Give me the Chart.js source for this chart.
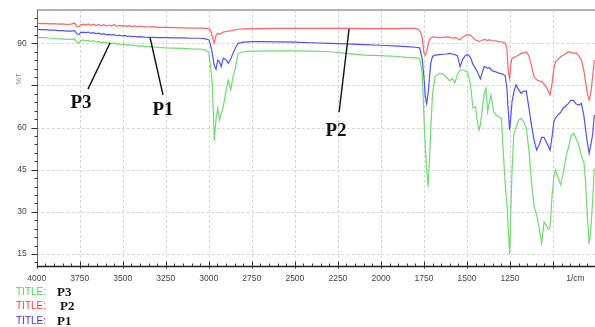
<!DOCTYPE html>
<html><head><meta charset="utf-8">
<script src="https://cdn.jsdelivr.net/npm/chart.js@4.4.1/dist/chart.umd.min.js"></script>
<style>html,body{margin:0;padding:0;background:#fff;overflow:hidden}</style>
</head><body>
<canvas id="c" width="595" height="327"></canvas>
<script>
// Wavenumbers (1/cm), shared by all three spectra
const wavenumbers = [
4000,3975,3950,3925,3900,3875,3850,3825,3800,3780,
3765,3755,3745,3730,3715,3700,3685,3670,3655,3640,
3625,3610,3595,3580,3565,3550,3535,3520,3505,3490,
3475,3460,3445,3430,3415,3400,3375,3350,3325,3300,
3250,3200,3150,3100,3050,3020,3000,2990,2980,2968,
2958,2948,2938,2928,2916,2900,2887,2872,2860,2848,
2830,2800,2750,2700,2600,2500,2400,2300,2200,2100,
2000,1900,1850,1800,
1775,1760,1750,1742,1734,1726,1718,1710,1700,1685,
1660,1640,1620,1600,1585,1570,1555,1540,1525,1510,
1495,1480,1465,1450,1440,1430,1422,1412,1400,1390,
1380,1370,1360,1345,1330,1315,1300,1288,1278,1268,
1260,1252,1245,1238,1228,1215,1200,1185,1170,1155,
1140,1125,1110,1095,1080,1066,1052,1040,1028,1017,
1005,995,985,970,955,940,925,910,895,880,
865,850,835,820,810,800,790,780,770,760
];
// P2 (red) %T
const p2 = [
97.1,97.0,97.1,96.9,97.0,96.8,96.9,96.7,96.8,97.2,
96.0,95.8,96.6,96.8,96.5,96.9,96.4,96.8,96.3,96.7,
96.2,96.6,96.1,96.5,96.2,96.6,96.0,96.4,96.1,96.3,
96.0,96.3,95.9,96.2,95.9,96.1,95.9,95.8,95.9,95.7,
95.7,95.6,95.5,95.4,95.4,95.3,95.2,94.6,92.5,90.1,
92.8,93.6,93.2,93.6,94.0,94.2,94.3,94.5,94.6,94.8,
95.0,95.1,95.2,95.2,95.3,95.3,95.3,95.3,95.3,95.2,
95.2,95.2,95.3,95.3,
94.7,92.0,86.5,85.8,87.0,89.5,91.2,91.8,92.3,92.2,
92.0,92.1,92.3,92.2,91.8,92.0,91.7,91.2,92.2,92.8,
93.1,92.9,92.0,91.2,90.9,90.6,90.8,91.0,91.4,91.2,
91.0,91.3,91.0,90.9,90.8,90.6,90.5,90.3,90.1,88.5,
80.0,77.5,82.5,84.7,85.0,85.3,85.8,86.4,86.6,87.0,
85.5,82.0,78.0,77.0,76.6,76.4,75.5,74.6,73.0,71.6,
76.0,81.0,83.5,84.3,85.2,85.8,86.4,87.0,86.8,86.4,
86.6,85.5,84.1,80.0,76.0,72.0,69.8,72.5,78.0,84.1
];
// P1 (blue) %T
const p1 = [
95.0,94.9,94.9,94.7,94.7,94.5,94.5,94.3,94.3,94.5,
93.3,93.1,93.8,94.0,93.8,94.0,93.6,93.8,93.4,93.6,
93.2,93.4,93.0,93.2,92.9,93.1,92.7,92.9,92.6,92.8,
92.5,92.6,92.4,92.5,92.3,92.4,92.2,92.1,92.1,92.0,
92.0,91.9,91.9,91.8,91.8,91.6,91.3,89.5,86.5,82.0,
80.8,84.1,83.5,81.7,84.7,84.2,82.9,84.5,86.4,88.0,
90.0,90.4,90.6,90.6,90.5,90.4,90.2,90.0,89.8,89.5,
89.3,89.0,88.8,88.6,
88.4,84.5,78.0,71.0,68.6,72.0,77.5,83.0,85.3,85.8,
86.0,86.1,86.2,86.4,86.2,86.0,85.5,81.7,84.3,85.6,
86.0,85.0,82.5,81.0,80.0,78.5,77.3,79.5,81.7,81.5,
81.1,81.4,80.6,80.0,79.8,79.4,79.2,78.9,78.5,74.0,
66.0,59.2,64.0,69.2,72.5,75.2,73.5,72.2,73.0,73.0,
67.0,60.9,55.5,52.0,54.0,56.5,56.5,55.0,53.5,52.0,
57.0,62.1,63.5,64.5,65.5,67.0,67.8,68.6,69.8,69.6,
68.4,68.0,68.6,64.0,59.0,54.5,50.9,54.0,57.4,64.5
];
// P3 (green) %T
const p3 = [
92.1,92.0,92.0,91.8,91.8,91.6,91.6,91.4,91.4,91.6,
90.3,90.1,90.9,91.2,90.8,91.1,90.6,90.9,90.4,90.7,
90.2,90.5,90.0,90.3,89.8,90.1,89.6,89.9,89.5,89.7,
89.3,89.5,89.2,89.3,89.0,89.1,88.9,88.8,88.7,88.6,
88.4,88.3,88.2,88.0,87.9,87.6,86.6,81.5,76.0,55.3,
63.0,66.9,62.7,65.0,67.4,73.0,76.9,73.4,78.0,80.5,
86.4,87.0,87.2,87.2,87.3,87.3,87.2,87.0,86.4,85.8,
85.6,85.3,85.0,84.8,
84.7,79.5,64.0,53.0,45.0,39.0,48.0,60.0,72.0,78.1,
79.3,79.1,78.0,76.6,77.5,76.0,79.0,80.5,80.5,80.2,
79.5,75.5,67.0,67.5,62.5,59.1,61.0,66.0,72.0,74.0,
65.7,69.0,71.6,65.7,64.5,63.9,63.3,50.3,40.0,33.0,
24.0,15.0,30.0,45.0,57.5,60.0,62.7,63.3,62.0,59.8,
52.0,40.8,32.0,28.9,24.0,18.8,26.5,25.3,24.0,24.5,
36.0,42.5,45.0,42.0,39.6,44.0,49.5,53.0,57.0,58.0,
56.0,53.8,50.0,47.5,40.0,28.0,18.5,24.0,33.7,45.5
];
const xTickValues = [4000,3750,3500,3250,3000,2750,2500,2250,2000,1750,1500,1250,1000];
const yTickValues = [15,30,45,60,75,90];
const seriesNames = ['P3','P2','P1'];
const seriesColors = ['#6fdc6f','#ff6262','#5050ff'];
const legendColors = ['#44d944','#ff3348','#3030ff'];
const seriesValues = [p3,p2,p1];
const callouts = [
  {label:'P3', from:[3574,90.1], to:[3702,73.7], at:[3743,68.6]},
  {label:'P1', from:[3341,91.9], to:[3266,71.6], at:[3266,66.1]},
  {label:'P2', from:[2185,95.1], to:[2243,65.5], at:[2261,58.9]}
];

const deco = {
  id:'deco',
  beforeDatasetsDraw(chart){
    const {ctx, chartArea:a, scales:{x,y}} = chart;
    ctx.save();
    ctx.strokeStyle='#d6d6d6'; ctx.lineWidth=1; ctx.setLineDash([3,2]);
    xTickValues.slice(1).forEach(v=>{
      const px=Math.round(x.getPixelForValue(v))+0.5;
      if(px<a.right){ctx.beginPath();ctx.moveTo(px,a.top);ctx.lineTo(px,a.bottom);ctx.stroke();}
    });
    yTickValues.forEach(v=>{
      const py=Math.round(y.getPixelForValue(v))+0.5;
      ctx.beginPath();ctx.moveTo(a.left,py);ctx.lineTo(a.right,py);ctx.stroke();
    });
    ctx.restore();
  },
  afterDatasetsDraw(chart){
    const {ctx, chartArea:a, scales:{x,y}} = chart;
    ctx.save();
    ctx.strokeStyle='#b4b4b4'; ctx.lineWidth=2;
    ctx.beginPath();ctx.moveTo(a.left,a.top);ctx.lineTo(a.right,a.top);ctx.stroke();
    const lx=Math.round(a.left)+0.5;
    ctx.strokeStyle='#666'; ctx.lineWidth=1;
    ctx.beginPath();ctx.moveTo(lx,a.top);ctx.lineTo(lx,a.bottom);ctx.stroke();
    ctx.strokeStyle='#333';
    for(let v=12; v<=100; v+=3){
      const py=Math.round(y.getPixelForValue(v))+0.5;
      const len = (v%15===0)?6:3;
      ctx.beginPath();ctx.moveTo(lx-len,py);ctx.lineTo(lx,py);ctx.stroke();
    }
    const by=Math.round(a.bottom)+0.5;
    ctx.strokeStyle='#222'; ctx.lineWidth=1.5;
    ctx.beginPath();ctx.moveTo(a.left,by);ctx.lineTo(a.right,by);ctx.stroke();
    ctx.lineWidth=1; ctx.strokeStyle='#333';
    for(let v=4000; v>=760; v-=50){
      const px=Math.round(x.getPixelForValue(v))+0.5;
      const major = v%250===0;
      ctx.beginPath();ctx.moveTo(px,by-(major?5:3));ctx.lineTo(px,by+(major?2:0));ctx.stroke();
    }
    ctx.restore();
  },
  afterDraw(chart){
    const {ctx, scales:{x,y}} = chart;
    ctx.save();
    ctx.fillStyle='#444'; ctx.font='8.5px "Liberation Sans", Arial, sans-serif';
    ctx.textAlign='center'; ctx.textBaseline='top';
    ctx.fillText('1/cm', x.getPixelForValue(870), chart.chartArea.bottom+8);
    ctx.save();
    ctx.translate(19, y.getPixelForValue(77.3));
    ctx.rotate(-Math.PI/2);
    ctx.fillStyle='#888'; ctx.font='7.5px "Liberation Sans", Arial, sans-serif';
    ctx.textAlign='center'; ctx.textBaseline='middle';
    ctx.fillText('%T',0,0);
    ctx.restore();
    ctx.strokeStyle='#111'; ctx.lineWidth=1.4; ctx.fillStyle='#111';
    ctx.font='bold 19px "Liberation Serif", "Times New Roman", serif';
    ctx.textAlign='center'; ctx.textBaseline='middle';
    callouts.forEach(c=>{
      ctx.beginPath();
      ctx.moveTo(x.getPixelForValue(c.from[0]), y.getPixelForValue(c.from[1]));
      ctx.lineTo(x.getPixelForValue(c.to[0]), y.getPixelForValue(c.to[1]));
      ctx.stroke();
      ctx.fillText(c.label, x.getPixelForValue(c.at[0]), y.getPixelForValue(c.at[1]));
    });
    const rows=[292,306.5,321];
    const nameX=[57,60,57];
    seriesNames.forEach((n,i)=>{
      ctx.textAlign='left'; ctx.textBaseline='middle';
      ctx.font='10px "Liberation Sans", Arial, sans-serif';
      ctx.fillStyle=legendColors[i];
      ctx.fillText('TITLE:',16,rows[i]);
      ctx.font='bold 13px "Liberation Serif", "Times New Roman", serif';
      ctx.fillStyle='#111';
      ctx.fillText(n,nameX[i],rows[i]+0.5);
    });
    ctx.restore();
  }
};

new Chart(document.getElementById('c'), {
  type:'line',
  data:{
    datasets: seriesNames.map((n,i)=>({
      label:n,
      data: wavenumbers.map((w,j)=>({x:w,y:seriesValues[i][j]})),
      borderColor: seriesColors[i],
      borderWidth: 1.2,
      pointRadius: 0,
      tension: 0,
      fill:false
    }))
  },
  options:{
    responsive:false,
    animation:false,
    devicePixelRatio:1,
    layout:{padding:{top:10,right:0,bottom:41,left:0}},
    plugins:{legend:{display:false}, tooltip:{enabled:false}},
    scales:{
      x:{
        type:'linear', reverse:true, min:756, max:4000,
        afterBuildTicks(s){ s.ticks = xTickValues.map(v=>({value:v})); },
        afterFit(s){ s.height = 20; s.paddingLeft=0; s.paddingRight=0; },
        grid:{display:false, drawTicks:false},
        border:{display:false},
        ticks:{autoSkip:false, maxRotation:0, padding:8, color:'#444',
          font:{family:'"Liberation Sans", Arial, sans-serif', size:8.5},
          callback:(v)=> v===1000 ? '' : String(v)}
      },
      y:{
        type:'linear', min:10.75, max:101.85,
        afterBuildTicks(s){ s.ticks = yTickValues.map(v=>({value:v})); },
        afterFit(s){ s.width = 36.7; s.paddingTop=0; s.paddingBottom=0; },
        grid:{display:false, drawTicks:false},
        border:{display:false},
        ticks:{padding:10, color:'#444',
          font:{family:'"Liberation Sans", Arial, sans-serif', size:8.5},
          callback:(v)=> v===75 ? '' : String(v)}
      }
    }
  },
  plugins:[deco]
});
</script>
</body></html>
